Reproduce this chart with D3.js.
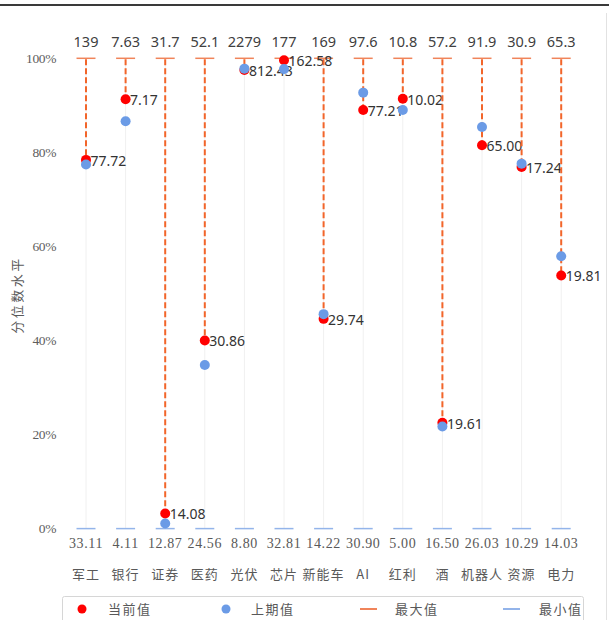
<!DOCTYPE html>
<html><head><meta charset="utf-8">
<script src="https://cdn.jsdelivr.net/npm/d3@7"></script>
<style>html,body{margin:0;padding:0;background:#fff;}</style>
</head><body>
<svg id="chart" width="609" height="620"></svg>
<script>
const categories = ["军工","银行","证券","医药","光伏","芯片","新能车","AI","红利","酒","机器人","资源","电力"];
const currentPct = [78.4, 91.3, 3.2, 40.0, 97.5, 99.6, 44.6, 89.0, 91.4, 22.5, 81.5, 76.9, 53.8];
const prevPct    = [77.4, 86.6, 1.1, 34.8, 97.8, 97.7, 45.6, 92.7, 89.0, 21.7, 85.4, 77.6, 57.9];
const currentLabels = ["77.72","7.17","14.08","30.86","812.43","162.58","29.74","77.21","10.02","19.61","65.00","17.24","19.81"];
const maxLabels = ["139","7.63","31.7","52.1","2279","177","169","97.6","10.8","57.2","91.9","30.9","65.3"];
const minLabels = ["33.11","4.11","12.87","24.56","8.80","32.81","14.22","30.90","5.00","16.50","26.03","10.29","14.03"];
const yTicks = [0, 20, 40, 60, 80, 100];
const legendItems = ["当前值","上期值","最大值","最小值"];

const svg = d3.select("#chart");
const x = d3.scaleBand().domain(categories).range([66.2, 581]).padding(0);
const cx = d => x(d) + x.bandwidth()/2;
const y = d3.scaleLinear().domain([0, 100]).range([528.6, 58.3]);

const RED = "#ff0000", BLUE = "#6b9be6", ORANGE = "#f2652a", ORANGE_T = "#f0845a", BLUE_T = "#93b4ea";
const serif = "'Liberation Serif', 'DejaVu Serif', serif";
const cjk = "'Noto Sans CJK SC', sans-serif";
const sans = "'Noto Sans', 'Open Sans', sans-serif";

// frame lines
svg.append("line").attr("x1",0).attr("x2",609).attr("y1",5).attr("y2",5).attr("stroke","#3a3a3a").attr("stroke-width",2);
svg.append("line").attr("x1",606.5).attr("x2",606.5).attr("y1",13).attr("y2",620).attr("stroke","#e2e2e2").attr("stroke-width",1);

// vertical gridlines
svg.append("g").selectAll("line").data(categories).join("line")
  .attr("x1", cx).attr("x2", cx).attr("y1", y(100)).attr("y2", y(0))
  .attr("stroke", "#f0f0f0").attr("stroke-width", 1);

// y axis (no domain line)
const yAxis = svg.append("g").attr("transform","translate(56,0)")
  .call(d3.axisLeft(y).tickValues(yTicks).tickFormat(d => d + "%").tickSize(0).tickPadding(0));
yAxis.select(".domain").remove();
yAxis.selectAll("text").attr("font-family", serif).attr("font-size", 13.5).attr("letter-spacing", -0.4).attr("fill", "#5e5e5e");

// y title
svg.append("text").attr("transform","translate(22,295) rotate(-90)").attr("text-anchor","middle")
  .attr("font-family", cjk).attr("font-size", 13).attr("letter-spacing", 2.5).attr("fill","#595959").text("分位数水平");

// min ticks & labels
svg.append("g").selectAll("line").data(categories).join("line")
  .attr("x1", d => cx(d) - 9.5).attr("x2", d => cx(d) + 9.5).attr("y1", y(0)).attr("y2", y(0))
  .attr("stroke", BLUE_T).attr("stroke-width", 1.5);
svg.append("g").selectAll("text").data(categories).join("text")
  .attr("x", cx).attr("y", 543).attr("dy","0.35em").attr("text-anchor","middle")
  .attr("font-family", serif).attr("font-size", 14).attr("letter-spacing", 0.6).attr("fill","#595959")
  .text((d,i) => minLabels[i]);

// category labels
svg.append("g").selectAll("text").data(categories).join("text")
  .attr("x", cx).attr("y", 574.5).attr("dy","0.35em").attr("text-anchor","middle")
  .attr("font-family", cjk).attr("font-size", 13).attr("letter-spacing", 1).attr("fill","#595959")
  .text(d => d);

// max ticks & labels
svg.append("g").selectAll("line").data(categories).join("line")
  .attr("x1", d => cx(d) - 9.5).attr("x2", d => cx(d) + 9.5).attr("y1", y(100)).attr("y2", y(100))
  .attr("stroke", ORANGE_T).attr("stroke-width", 1.5);
svg.append("g").selectAll("text").data(categories).join("text")
  .attr("x", cx).attr("y", 41.5).attr("dy","0.35em").attr("text-anchor","middle")
  .attr("font-family", sans).attr("font-size", 14.5).attr("fill","#404040")
  .text((d,i) => maxLabels[i]);

// current value labels
svg.append("g").selectAll("text").data(categories).join("text")
  .attr("x", d => cx(d) + 4.5).attr("y", (d,i) => y(currentPct[i]) + 1).attr("dy","0.35em")
  .attr("font-family", sans).attr("font-size", 14).attr("fill","#333")
  .text((d,i) => currentLabels[i]);

// dashed lines from max to current
svg.append("g").selectAll("line").data(categories).join("line")
  .attr("x1", cx).attr("x2", cx).attr("y1", y(100) + 1).attr("y2", (d,i) => y(currentPct[i]))
  .attr("stroke", ORANGE).attr("stroke-width", 2).attr("stroke-dasharray","6,3");

// current dots
svg.append("g").selectAll("circle").data(categories).join("circle")
  .attr("cx", cx).attr("cy", (d,i) => y(currentPct[i])).attr("r", 5).attr("fill", RED);
// previous dots
svg.append("g").selectAll("circle").data(categories).join("circle")
  .attr("cx", cx).attr("cy", (d,i) => y(prevPct[i])).attr("r", 5).attr("fill", BLUE);

// legend
svg.append("rect").attr("x",62.5).attr("y",596.5).attr("width",521).attr("height",40).attr("rx",2)
  .attr("fill","none").attr("stroke","#d6d6d6").attr("stroke-width",1);
const lg = svg.append("g");
const ly = 609;
lg.append("circle").attr("cx",82).attr("cy",ly).attr("r",4.5).attr("fill",RED);
lg.append("circle").attr("cx",226).attr("cy",ly).attr("r",4.5).attr("fill",BLUE);
lg.append("line").attr("x1",360).attr("x2",377).attr("y1",ly).attr("y2",ly).attr("stroke",ORANGE_T).attr("stroke-width",2);
lg.append("line").attr("x1",503).attr("x2",520).attr("y1",ly).attr("y2",ly).attr("stroke",BLUE_T).attr("stroke-width",2);
const lx = [108, 251, 395, 539];
lg.selectAll("text.l").data(legendItems).join("text").attr("class","l")
  .attr("x", (d,i) => lx[i]).attr("y", ly).attr("dy","0.35em")
  .attr("font-family", cjk).attr("font-size", 13).attr("letter-spacing", 1.5).attr("fill","#595959")
  .text(d => d);
</script>
</body></html>
